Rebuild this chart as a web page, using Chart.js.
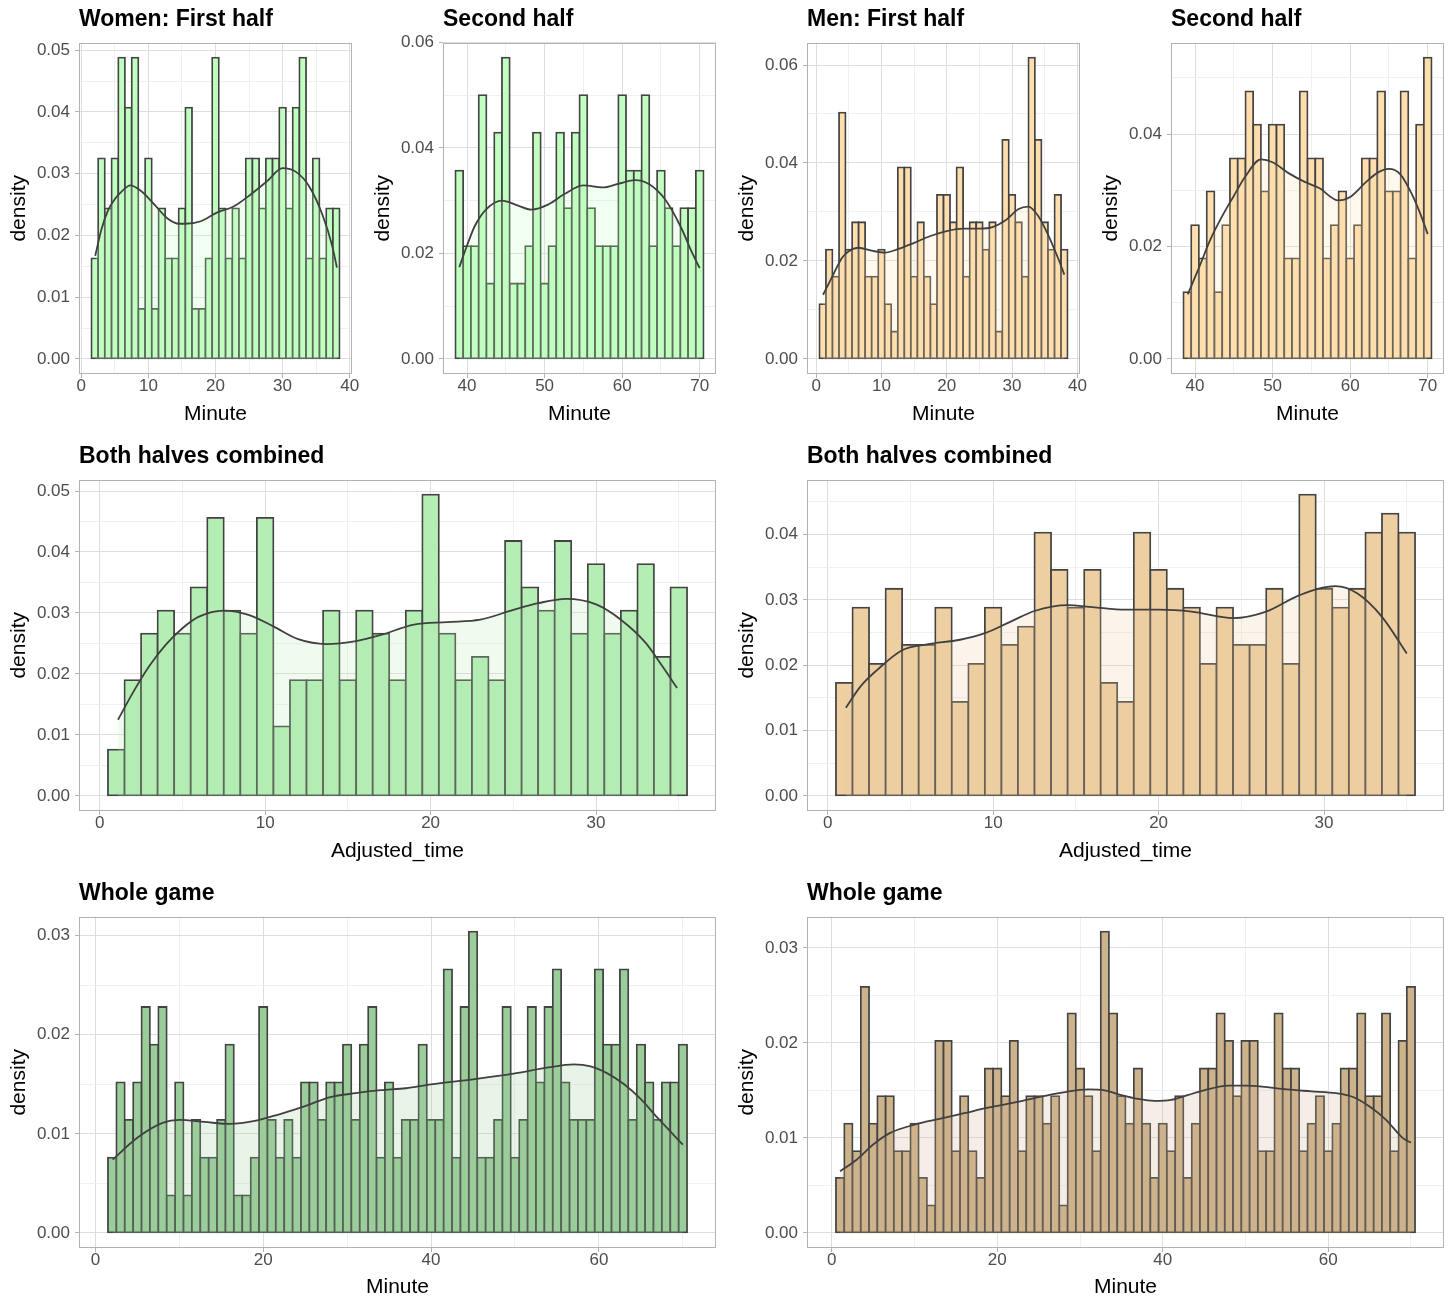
<!DOCTYPE html>
<html>
<head>
<meta charset="utf-8">
<script src="https://cdn.jsdelivr.net/npm/chart.js@4.4.1/dist/chart.umd.min.js"></script>
<style>
  body { margin: 0; background: #fff; width: 1456px; height: 1310px; overflow: hidden; }
  .panel { position: absolute; }
</style>
</head>
<body>
<div class="panel" style="left:0;top:0"><canvas id="wFirst" width="364" height="437"></canvas></div>
<div class="panel" style="left:364px;top:0"><canvas id="wSecond" width="364" height="437"></canvas></div>
<div class="panel" style="left:728px;top:0"><canvas id="mFirst" width="364" height="437"></canvas></div>
<div class="panel" style="left:1092px;top:0"><canvas id="mSecond" width="364" height="437"></canvas></div>
<div class="panel" style="left:0;top:437px"><canvas id="wBoth" width="728" height="437"></canvas></div>
<div class="panel" style="left:728px;top:437px"><canvas id="mBoth" width="728" height="437"></canvas></div>
<div class="panel" style="left:0;top:874px"><canvas id="wWhole" width="728" height="436"></canvas></div>
<div class="panel" style="left:728px;top:874px"><canvas id="mWhole" width="728" height="436"></canvas></div>
<script>
function range(a, b) { var r = []; for (var v = a; v <= b; v++) r.push(v); return r; }

// bin centres (one-minute bins)
var minutesWomenFirst = range(2, 38);
var minutesWomenSecond = range(39, 70);
var minutesMenFirst = range(1, 38);
var minutesMenSecond = range(39, 70);
var minutesBoth = range(1, 35);
var minutesWomenWhole = range(2, 70);
var minutesMenWhole = range(1, 70);

// histogram densities
var densityWomenFirst = [0.0163,0.0325,0.0244,0.0325,0.0488,0.0407,0.0488,0.0081,0.0325,0.0081,0.0244,0.0163,0.0163,0.0244,0.0407,0.0081,0.0081,0.0163,0.0488,0.0244,0.0163,0.0244,0.0163,0.0325,0.0325,0.0244,0.0325,0.0325,0.0407,0.0244,0.0407,0.0488,0.0163,0.0325,0.0163,0.0244,0.0244];
var densityWomenSecond = [0.0357,0.0214,0.0214,0.05,0.0143,0.0429,0.0571,0.0143,0.0143,0.0214,0.0429,0.0143,0.0214,0.0429,0.0286,0.0429,0.05,0.0286,0.0214,0.0214,0.0214,0.05,0.0357,0.0357,0.05,0.0214,0.0357,0.0286,0.0214,0.0286,0.0286,0.0357];
var densityMenFirst = [0.0112,0.0223,0.0168,0.0503,0.0223,0.0279,0.0279,0.0168,0.0168,0.0223,0.0112,0.0056,0.0391,0.0391,0.0168,0.0279,0.0168,0.0112,0.0335,0.0335,0.0279,0.0391,0.0168,0.0279,0.0279,0.0223,0.0279,0.0056,0.0447,0.0335,0.0279,0.0168,0.0615,0.0447,0.0279,0.0223,0.0335,0.0223];
var densityMenSecond = [0.0119,0.0238,0.0179,0.0298,0.0119,0.0238,0.0357,0.0357,0.0476,0.0417,0.0298,0.0417,0.0417,0.0179,0.0179,0.0476,0.0357,0.0357,0.0179,0.0238,0.0298,0.0179,0.0238,0.0357,0.0357,0.0476,0.0298,0.0298,0.0476,0.0179,0.0417,0.0536];
var densityWomenBoth = [0.0076,0.019,0.0266,0.0304,0.0266,0.0342,0.0456,0.0304,0.0266,0.0456,0.0114,0.019,0.019,0.0304,0.019,0.0304,0.0266,0.019,0.0304,0.0494,0.0266,0.019,0.0228,0.019,0.0418,0.0342,0.0304,0.0418,0.0266,0.038,0.0266,0.0304,0.038,0.0228,0.0342];
var densityMenBoth = [0.0173,0.0288,0.0202,0.0317,0.0231,0.0231,0.0288,0.0144,0.0202,0.0288,0.0231,0.0259,0.0403,0.0346,0.0288,0.0346,0.0173,0.0144,0.0403,0.0346,0.0317,0.0288,0.0202,0.0288,0.0231,0.0231,0.0317,0.0202,0.0461,0.0317,0.0288,0.0317,0.0403,0.0432,0.0403];
var densityWomenWhole = [0.0076,0.0152,0.0114,0.0152,0.0228,0.019,0.0228,0.0038,0.0152,0.0038,0.0114,0.0076,0.0076,0.0114,0.019,0.0038,0.0038,0.0076,0.0228,0.0114,0.0076,0.0114,0.0076,0.0152,0.0152,0.0114,0.0152,0.0152,0.019,0.0114,0.019,0.0228,0.0076,0.0152,0.0076,0.0114,0.0114,
  0.019,0.0114,0.0114,0.0266,0.0076,0.0228,0.0304,0.0076,0.0076,0.0114,0.0228,0.0076,0.0114,0.0228,0.0152,0.0228,0.0266,0.0152,0.0114,0.0114,0.0114,0.0266,0.019,0.019,0.0266,0.0114,0.019,0.0152,0.0114,0.0152,0.0152,0.019];
var densityMenWhole = [0.0058,0.0115,0.0086,0.0259,0.0115,0.0144,0.0144,0.0086,0.0086,0.0115,0.0058,0.0029,0.0202,0.0202,0.0086,0.0144,0.0086,0.0058,0.0173,0.0173,0.0144,0.0202,0.0086,0.0144,0.0144,0.0115,0.0144,0.0029,0.0231,0.0173,0.0144,0.0086,0.0317,0.0231,0.0144,0.0115,0.0173,0.0115,
  0.0058,0.0115,0.0086,0.0144,0.0058,0.0115,0.0173,0.0173,0.0231,0.0202,0.0144,0.0202,0.0202,0.0086,0.0086,0.0231,0.0173,0.0173,0.0086,0.0115,0.0144,0.0086,0.0115,0.0173,0.0173,0.0231,0.0144,0.0144,0.0231,0.0086,0.0202,0.0259];

// density curves, [minute, density]
var curveWomenFirst = [[2.07,0.0167],[3,0.021],[4,0.0241],[5,0.0259],[6,0.0271],[7.3,0.0281],[8.9,0.0272],[10.9,0.025],[12.8,0.0228],[14.6,0.0219],[15.5,0.0219],[17.8,0.0223],[20.2,0.0237],[22.7,0.0247],[25.2,0.0266],[27.7,0.0288],[30,0.0309],[32,0.0303],[34,0.0279],[36,0.0232],[37.4,0.0183],[38.1,0.0148]];
var curveWomenSecond = [[39,0.0174],[40,0.0215],[41,0.0252],[42.5,0.0284],[44.5,0.03],[46.5,0.0291],[48.3,0.0283],[50.5,0.0293],[52.5,0.0312],[55,0.0329],[57.5,0.0325],[59.5,0.0332],[61.7,0.0339],[63.5,0.0331],[65.5,0.0303],[67.5,0.0252],[69,0.0202],[70,0.0172]];
var curveMenFirst = [[1.06,0.0131],[2.5,0.0169],[4,0.0207],[5,0.022],[6.5,0.0227],[8.5,0.0221],[10.5,0.0217],[12.5,0.0224],[15,0.0237],[17.5,0.0251],[20,0.0261],[22.5,0.0266],[25,0.0266],[27,0.0269],[29,0.0283],[31,0.0306],[32.5,0.0311],[34,0.0292],[35.5,0.0254],[37,0.0207],[38,0.0172]];
var curveMenSecond = [[39.06,0.0115],[40.5,0.0162],[42,0.0213],[43.5,0.0254],[45,0.029],[46.5,0.0325],[48.5,0.0355],[50,0.035],[52,0.0331],[54,0.0316],[56,0.0304],[58.5,0.0282],[60,0.0288],[62,0.0314],[63.5,0.0331],[65,0.0338],[66.5,0.0328],[68,0.0292],[69,0.026],[70,0.0222]];
var curveWomenBoth = [[1.11,0.0125],[2,0.0169],[3,0.0213],[4,0.0248],[5,0.0275],[6,0.0294],[7.5,0.0304],[9,0.0297],[10.5,0.0278],[12,0.0257],[13.7,0.0249],[15.5,0.0254],[17,0.0264],[19,0.0281],[21,0.0285],[23,0.0289],[25,0.0305],[26.5,0.0316],[28.2,0.0323],[30,0.0314],[31.5,0.0289],[33,0.0251],[34,0.0213],[34.9,0.0177]];
var curveMenBoth = [[1.1,0.0135],[2,0.0168],[3,0.0193],[4.5,0.0223],[6,0.0232],[8,0.0239],[9.5,0.0249],[11,0.0266],[12.5,0.0283],[14.5,0.0292],[16,0.0289],[18,0.0285],[20,0.0285],[22,0.0282],[24.5,0.0272],[26.5,0.0282],[28.5,0.0307],[30.7,0.0321],[32,0.031],[33.5,0.0274],[35,0.0218]];
var curveWomenWhole = [[2.06,0.0074],[5,0.0096],[8,0.0111],[10,0.0114],[13,0.0112],[16,0.011],[19,0.0113],[22,0.012],[25,0.0128],[28,0.0137],[31,0.0141],[34,0.0144],[37,0.0146],[40,0.015],[45,0.0155],[50,0.0161],[54,0.0167],[57,0.017],[59,0.0168],[61,0.0161],[63,0.015],[65,0.0135],[67,0.0116],[69,0.0098],[70,0.0089]];
var curveMenWhole = [[1,0.0065],[3,0.0077],[5,0.0093],[7,0.0105],[10,0.0114],[13,0.012],[16,0.0126],[19,0.0132],[22,0.0137],[25,0.0143],[28,0.0148],[31,0.0151],[33,0.015],[35,0.0145],[37,0.0141],[39,0.0139],[41,0.014],[43,0.0145],[45,0.015],[48,0.0155],[50,0.0155],[52,0.0154],[55,0.0151],[58,0.0149],[61,0.0147],[63,0.0143],[65,0.0133],[67,0.0119],[69,0.01],[70,0.0095]];

// axis breaks
var xBreaksFirst = [0, 10, 20, 30, 40];
var xBreaksSecond = [40, 50, 60, 70];
var xBreaksBoth = [0, 10, 20, 30];
var xBreaksWhole = [0, 20, 40, 60];

Chart.defaults.font.family = "'Liberation Sans', Arial, Helvetica, sans-serif";

function withMinors(majors, lo, hi) {
  var half = (majors[1] - majors[0]) / 2;
  var tol = (hi - lo) * 0.003;
  var out = [];
  if (majors[0] - half >= lo) out.push(majors[0] - half);
  for (var i = 0; i < majors.length; i++) {
    out.push(majors[i]);
    if (i < majors.length - 1 || majors[i] + half <= hi) out.push(majors[i] + half);
  }
  return out.filter(function (v) { return v >= lo - tol && v <= hi + tol; });
}

function rgba(hex, a) {
  var n = parseInt(hex.slice(1), 16);
  return "rgba(" + (n >> 16) + "," + ((n >> 8) & 255) + "," + (n & 255) + "," + a + ")";
}

var panelBorder = {
  id: "panelBorder",
  afterDraw: function (chart) {
    var ctx = chart.ctx, a = chart.chartArea;
    ctx.save();
    ctx.strokeStyle = "#B3B3B3";
    ctx.lineWidth = 1;
    ctx.strokeRect(Math.round(a.left) + 0.5, Math.round(a.top) + 0.5,
      Math.round(a.right - a.left) - 1, Math.round(a.bottom - a.top) - 1);
    ctx.restore();
  }
};

function makePanel(id, p) {
  var lo = p.minutes[0] - 0.5, hi = p.minutes[p.minutes.length - 1] + 0.5;
  var xMin = lo - 0.05 * (hi - lo), xMax = hi + 0.05 * (hi - lo);
  var top = Math.max.apply(null, p.density);
  var yMin = -0.05 * top, yMax = 1.05 * top;
  var xTicks = withMinors(p.xBreaks, xMin, xMax);
  var yTicks = withMinors(p.yBreaks, yMin, yMax);
  var xMajor = new Set(p.xBreaks), yMajor = new Set(p.yBreaks);
  var canvas = document.getElementById(id);

  function gridColor(set) {
    return function (c) { return c.tick && set.has(c.tick.value) ? "#DEDEDE" : "#F0F0F0"; };
  }
  function tickColor(set) {
    return function (c) { return c.tick && set.has(c.tick.value) ? "#B3B3B3" : "rgba(0,0,0,0)"; };
  }

  new Chart(canvas, {
    type: "bar",
    data: {
      datasets: [{
        type: "line",
        data: p.curve.map(function (d) { return { x: d[0], y: d[1] }; }),
        borderColor: "#404040",
        borderWidth: 1.8,
        pointRadius: 0,
        cubicInterpolationMode: "monotone",
        fill: "origin",
        backgroundColor: rgba(p.fill, 0.22),
        order: 0
      }, {
        type: "bar",
        data: p.minutes.map(function (m, i) { return { x: m, y: p.density[i] }; }),
        backgroundColor: p.fill,
        borderColor: "#434343",
        borderWidth: 1.8,
        borderSkipped: false,
        inflateAmount: 0.9,
        barPercentage: 1,
        categoryPercentage: 1,
        order: 1
      }]
    },
    options: {
      responsive: false,
      animation: false,
      events: [],
      layout: { padding: { left: 0, right: 12, top: 0, bottom: 0 } },
      plugins: {
        legend: { display: false },
        tooltip: { enabled: false },
        title: {
          display: true, text: p.title, align: "start", fullSize: false,
          color: "#000", font: { size: 23, weight: "bold", lineHeight: 1.2 },
          padding: { top: 6, bottom: 9 }
        }
      },
      scales: {
        x: {
          type: "linear", min: xMin, max: xMax, offset: false,
          afterBuildTicks: function (s) { s.ticks = xTicks.map(function (v) { return { value: v }; }); },
          afterFit: function (s) { s.height = canvas.height - 374; },
          ticks: {
            autoSkip: false, maxRotation: 0, padding: 0, color: "#4D4D4D",
            font: { size: 17, lineHeight: 1 },
            callback: function (v) { return xMajor.has(v) ? String(v) : ""; }
          },
          grid: { color: gridColor(xMajor), tickColor: tickColor(xMajor), tickLength: 4, offset: false },
          border: { display: false },
          title: { display: true, text: p.xTitle, color: "#000", font: { size: 21 }, padding: { top: 0, bottom: 10 } }
        },
        y: {
          type: "linear", min: yMin, max: yMax,
          afterBuildTicks: function (s) { s.ticks = yTicks.map(function (v) { return { value: v }; }); },
          afterFit: function (s) { s.width = 79; },
          ticks: {
            autoSkip: false, padding: 5, color: "#4D4D4D", font: { size: 17 },
            callback: function (v) { return yMajor.has(v) ? v.toFixed(2) : ""; }
          },
          grid: { color: gridColor(yMajor), tickColor: tickColor(yMajor), tickLength: 4 },
          border: { display: false },
          title: { display: true, text: "density", color: "#000", font: { size: 21 }, padding: { top: 7, bottom: 0 } }
        }
      }
    },
    plugins: [panelBorder]
  });
}

makePanel("wFirst", { title: "Women: First half", xTitle: "Minute", minutes: minutesWomenFirst, density: densityWomenFirst,
  curve: curveWomenFirst, fill: "#C1FFC1", xBreaks: xBreaksFirst, yBreaks: [0, 0.01, 0.02, 0.03, 0.04, 0.05] });
makePanel("wSecond", { title: "Second half", xTitle: "Minute", minutes: minutesWomenSecond, density: densityWomenSecond,
  curve: curveWomenSecond, fill: "#C1FFC1", xBreaks: xBreaksSecond, yBreaks: [0, 0.02, 0.04, 0.06] });
makePanel("mFirst", { title: "Men: First half", xTitle: "Minute", minutes: minutesMenFirst, density: densityMenFirst,
  curve: curveMenFirst, fill: "#FFDEAD", xBreaks: xBreaksFirst, yBreaks: [0, 0.02, 0.04, 0.06] });
makePanel("mSecond", { title: "Second half", xTitle: "Minute", minutes: minutesMenSecond, density: densityMenSecond,
  curve: curveMenSecond, fill: "#FFDEAD", xBreaks: xBreaksSecond, yBreaks: [0, 0.02, 0.04] });
makePanel("wBoth", { title: "Both halves combined", xTitle: "Adjusted_time", minutes: minutesBoth, density: densityWomenBoth,
  curve: curveWomenBoth, fill: "#B4EEB4", xBreaks: xBreaksBoth, yBreaks: [0, 0.01, 0.02, 0.03, 0.04, 0.05] });
makePanel("mBoth", { title: "Both halves combined", xTitle: "Adjusted_time", minutes: minutesBoth, density: densityMenBoth,
  curve: curveMenBoth, fill: "#EECFA1", xBreaks: xBreaksBoth, yBreaks: [0, 0.01, 0.02, 0.03, 0.04] });
makePanel("wWhole", { title: "Whole game", xTitle: "Minute", minutes: minutesWomenWhole, density: densityWomenWhole,
  curve: curveWomenWhole, fill: "#9BCD9B", xBreaks: xBreaksWhole, yBreaks: [0, 0.01, 0.02, 0.03] });
makePanel("mWhole", { title: "Whole game", xTitle: "Minute", minutes: minutesMenWhole, density: densityMenWhole,
  curve: curveMenWhole, fill: "#CDB38B", xBreaks: xBreaksWhole, yBreaks: [0, 0.01, 0.02, 0.03] });
</script>
</body>
</html>
